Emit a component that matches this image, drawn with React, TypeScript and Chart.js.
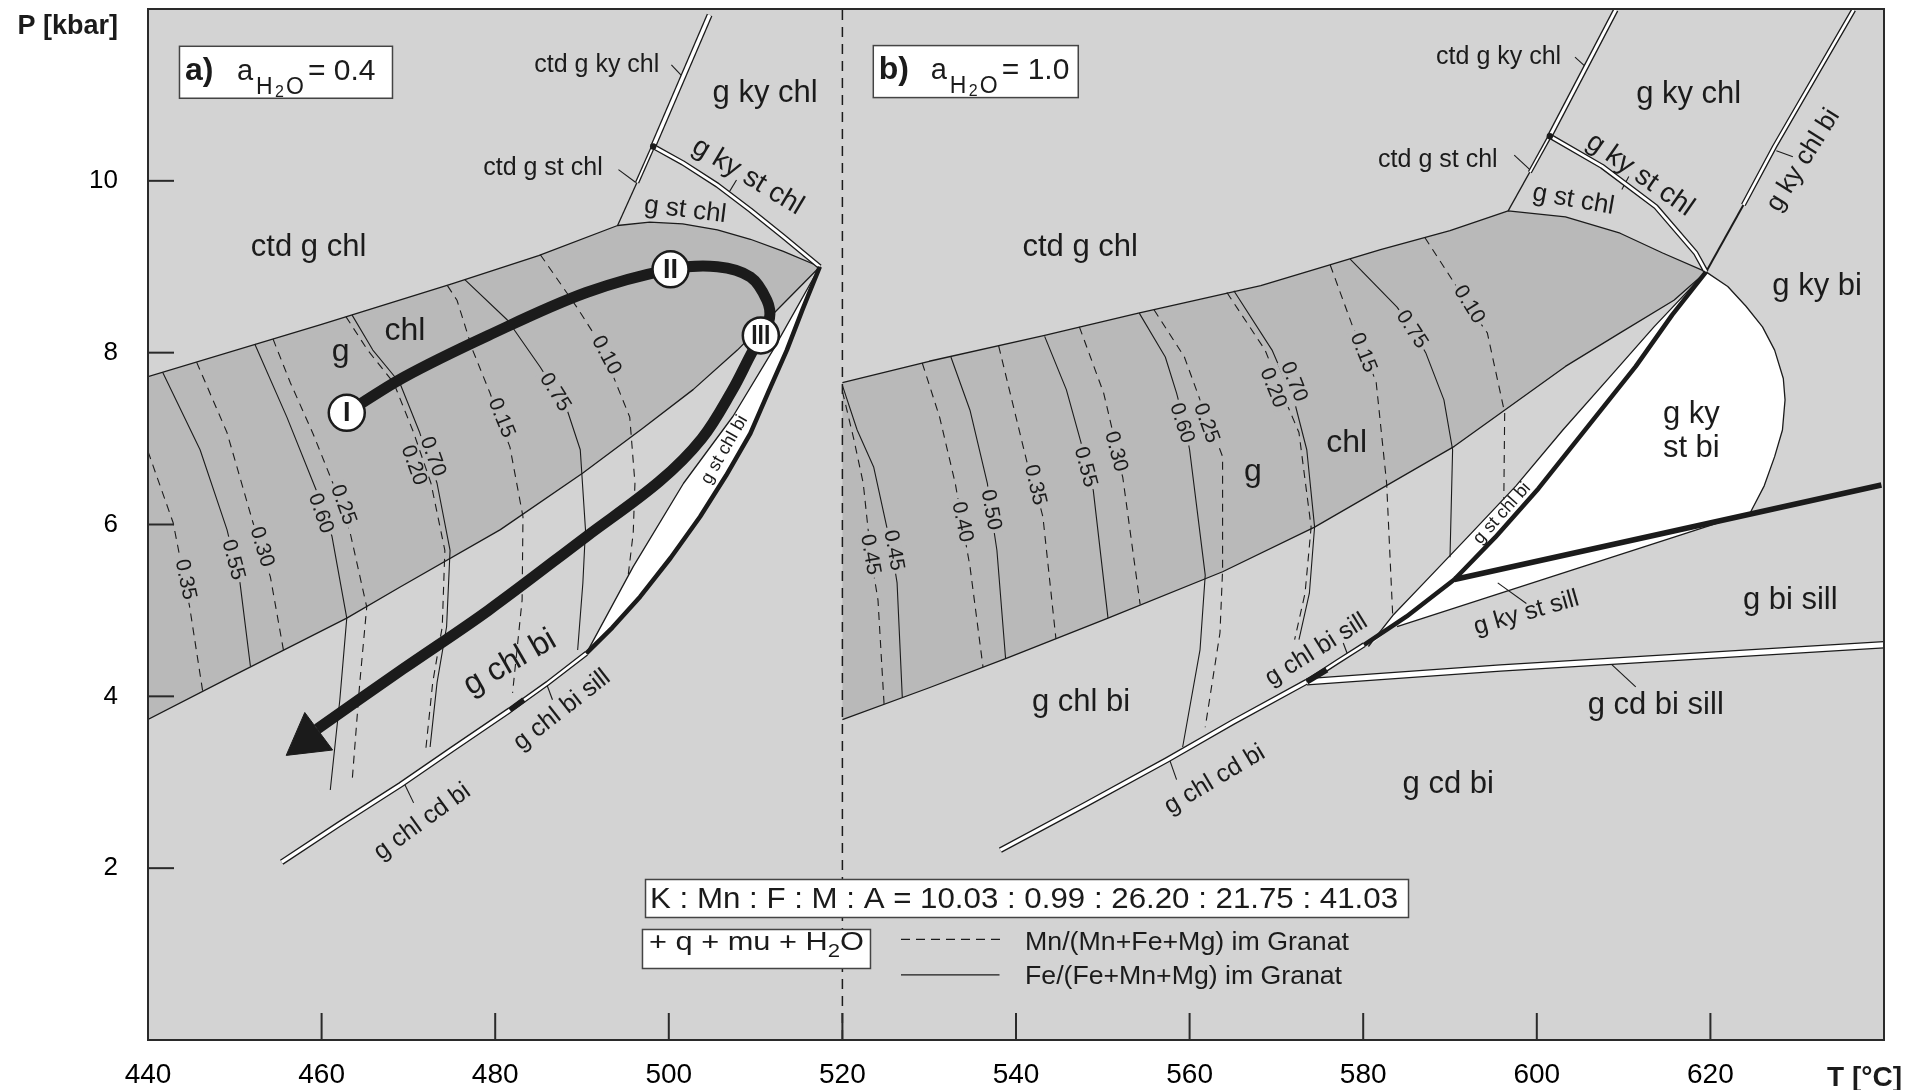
import React, { useEffect, useRef } from 'react';
import { Chart, registerables } from 'chart.js';

Chart.register(...registerables);

const FONT = "'Liberation Sans', Arial, Helvetica, sans-serif";
const INK = '#1b1b1b';
const LIGHT = '#d3d3d3';
const DARK = '#b9b9b9';

// ---------- axes ----------
const xTickValues = [440, 450, 460, 470, 480, 490, 500, 510, 520, 530, 540, 550, 560, 570, 580, 590, 600, 610, 620, 630, 640];
const xTickLabels = [440, 460, 480, 500, 520, 540, 560, 580, 600, 620];
const yTickValues = [0, 1, 2, 3, 4, 5, 6, 7, 8, 9, 10, 11, 12];
const yTickLabels = [2, 4, 6, 8, 10];

// ---------- panel a (aH2O = 0.4): [T °C, P kbar] ----------
const bandATop = [[440, 7.72], [460, 8.33], [475, 8.8], [485, 9.13], [494.1, 9.48]];
const bandAArc = [[494.1, 9.48], [497.8, 9.52], [501.6, 9.5], [505.6, 9.43], [509.4, 9.32], [513.2, 9.18], [517.4, 9.0]];
const bandABottom = [[440, 3.73], [450, 4.25], [462.9, 4.91], [469, 5.27], [480.6, 5.94], [490.1, 6.6], [497, 7.12], [502.8, 7.57], [507.9, 8.03], [512.5, 8.5], [517.4, 9.0]];
const sliverAThin = [[517.4, 9.0], [512.0, 8.03], [507.4, 7.26], [501.7, 6.48], [495.9, 5.51], [490.5, 4.5]];
const sliverAThick = [[517.4, 9.0], [515.4, 8.5], [513.6, 8.03], [511.5, 7.55], [509.4, 7.06], [506.6, 6.57], [503.6, 6.09], [500.2, 5.61], [496.7, 5.16], [493.5, 4.8], [490.5, 4.5]];
const ctdGStChlA = [[494.1, 9.48], [498.2, 10.4]];
const ctdGStChlADouble = [[496.35, 9.98], [498.2, 10.4]];
const ctdGKyChlA = [[498.2, 10.4], [504.7, 11.93]];
const gKyStChlA = [[498.2, 10.4], [501.6, 10.21], [505.6, 9.95], [509.4, 9.66], [513.2, 9.35], [517.4, 9.0]];
const gChlBiSillA = [[490.5, 4.5], [486, 4.15], [481.7, 3.84]];
const gChlBiSillABlack = [[481.7, 3.84], [483.3, 3.96]];
const gChlCdBiA = [[481.7, 3.84], [475, 3.38], [469.1, 2.97], [462, 2.51], [455.4, 2.07]];

// isopleths panel a (Mn dashed, Fe solid)
const isoA_Mn035 = [[440, 6.85], [442.9, 6.02], [444.8, 5.04], [446.3, 4.06]];
const isoA_Fe055 = [[441.7, 7.77], [446.0, 6.87], [449.1, 5.94], [450.6, 5.32], [451.8, 4.35]];
const isoA_Mn030 = [[445.6, 7.89], [449.1, 7.07], [452.1, 6.02], [454.1, 5.39], [455.6, 4.54]];
const isoA_Fe060 = [[452.3, 8.1], [456.0, 7.25], [459.5, 6.37], [461.2, 5.86], [462.9, 4.91], [462.1, 3.96], [461.0, 2.91]];
const isoA_Mn025 = [[454.4, 8.16], [456.4, 7.65], [459.0, 7.06], [461.3, 6.48], [463.3, 5.9], [465.2, 5.04], [464.4, 4.16], [463.5, 2.99]];
const isoA_Fe070 = [[463.5, 8.44], [465.9, 8.03], [469.0, 7.65], [471.3, 7.07], [473.3, 6.48], [474.8, 5.7], [474.4, 4.81], [473.3, 4.16], [472.5, 3.41]];
const isoA_Mn020 = [[462.8, 8.42], [465.3, 8.03], [468.3, 7.65], [470.6, 7.07], [472.6, 6.48], [474.2, 5.7], [473.9, 4.81], [472.8, 4.16], [472.0, 3.38]];
const isoA_Mn015 = [[474.5, 8.78], [475.6, 8.61], [477.4, 8.03], [479.4, 7.53], [481.7, 6.9], [483.2, 6.09], [483.1, 5.12], [482.0, 4.04]];
const isoA_Fe075 = [[476.5, 8.85], [481.4, 8.38], [485.2, 7.83], [488.3, 7.33], [489.8, 6.87], [490.4, 5.94], [490.1, 5.32], [489.5, 4.54]];
const isoA_Mn010 = [[485.2, 9.14], [489.4, 8.53], [491.3, 8.23], [493.5, 7.75], [495.5, 7.25], [496.1, 6.48], [495.9, 5.9], [495.3, 5.39]];

// P-T path
const pathA = [[462.9, 7.3], [469.4, 7.71], [479.2, 8.2], [490.5, 8.7], [500.2, 8.97], [505.6, 9.0], [509.4, 8.88], [511.3, 8.61], [511.6, 8.4], [510.6, 8.2], [509.3, 7.95], [507.3, 7.56], [503.8, 7.0], [498.9, 6.5], [490.5, 5.86], [479.2, 5.0], [469.4, 4.32], [459.5, 3.62]];
const pathStations = [[462.9, 7.3], [500.2, 8.97], [510.6, 8.2]];
const stationNames = ['I', 'II', 'III'];
const arrowHead = [[458.42, 3.5]];

// ---------- panel b (aH2O = 1.0) ----------
const bandBTop = [[520, 7.65], [530, 7.9], [543.3, 8.2], [554.1, 8.46], [568.2, 8.78], [582, 9.2], [590, 9.42], [596.7, 9.65]];
const bandBArc = [[596.7, 9.65], [603.3, 9.58], [609.6, 9.39], [614.5, 9.16], [619.5, 8.94]];
const bandBBottom = [[520, 3.73], [530, 4.1], [539.1, 4.45], [550.6, 4.91], [563.8, 5.45], [574.4, 5.97], [590.5, 6.91], [596, 7.31], [603.3, 7.84], [609.6, 8.23], [615.8, 8.61], [619.5, 8.94]];
const sliverBThin = [[619.5, 8.94], [613.5, 8.3], [608.7, 7.75], [603.0, 7.1], [597.6, 6.45], [592.0, 5.85], [587.0, 5.32], [583.4, 4.94], [580.6, 4.58]];
const thickBUpper = [[619.5, 8.94], [615.6, 8.44], [611.4, 7.84], [605.8, 7.13], [600.2, 6.42], [595.2, 5.85], [590.5, 5.36]];
const thickBLower = [[590.5, 5.36], [585, 4.93], [580.1, 4.6]];
const thickBRight = [[590.5, 5.36], [624.5, 6.12], [639.7, 6.46]];
const bulgeB = [[619.5, 8.94], [622.0, 8.77], [624.1, 8.54], [626.0, 8.3], [627.4, 8.03], [628.4, 7.7], [628.6, 7.45], [628.3, 7.1], [627.4, 6.79], [626.2, 6.45], [624.5, 6.12]];
const gKyStSillB = [[583.9, 4.81], [622.5, 6.07]];
const ctdGStChlB = [[596.7, 9.65], [601.5, 10.52]];
const ctdGStChlBDouble = [[599.2, 10.1], [601.5, 10.52]];
const ctdGKyChlB = [[601.5, 10.52], [609.1, 11.99]];
const gKyStChlB = [[601.5, 10.52], [607.5, 10.17], [613.7, 9.7], [618.3, 9.16], [619.5, 8.94]];
const gKyChlBiB = [[619.5, 8.94], [623.8, 9.72]];
const gKyChlBiBDouble = [[623.8, 9.72], [627.4, 10.4], [636.5, 11.99]];
const gChlBiSillB = [[580.1, 4.6], [577, 4.4], [573.5, 4.17]];
const gChlBiSillBBlack = [[573.5, 4.17], [575.8, 4.31]];
const gChlCdBiB = [[573.5, 4.17], [565, 3.7], [557.4, 3.26], [548, 2.74], [538.2, 2.21]];
const gCdBiSillB = [[573.5, 4.17], [595.8, 4.33], [640, 4.6]];
const junctionDots = [[498.2, 10.4], [601.5, 10.52]];
const dividerLine = [[520, 0], [520, 12]];

const isoB_Mn045 = [[520, 7.55], [521.3, 7.0], [522.4, 6.48], [523.3, 5.62], [524.1, 5.12], [524.8, 3.91]];
const isoB_Fe045 = [[520, 7.62], [521.7, 7.1], [523.6, 6.67], [525.7, 5.7], [526.3, 5.32], [526.9, 3.99]];
const isoB_Mn040 = [[529.2, 7.88], [531.2, 7.25], [533.0, 6.48], [533.8, 6.02], [534.7, 5.51], [536.2, 4.34]];
const isoB_Fe050 = [[532.5, 7.95], [534.7, 7.33], [536.7, 6.48], [537.1, 6.17], [537.8, 5.7], [538.8, 4.44]];
const isoB_Mn035 = [[538.0, 8.08], [540.0, 7.25], [541.4, 6.67], [542.2, 6.44], [543.1, 6.09], [544.6, 4.67]];
const isoB_Fe055 = [[543.3, 8.19], [545.8, 7.57], [547.5, 6.95], [548.0, 6.67], [548.9, 6.4], [550.6, 4.91]];
const isoB_Mn030 = [[547.3, 8.3], [550.1, 7.53], [551.1, 7.1], [551.5, 6.83], [552.3, 6.55], [554.3, 5.07]];
const isoB_Fe060 = [[554.2, 8.46], [557.2, 7.95], [558.5, 7.53], [559.4, 7.18], [560.0, 6.87], [561.8, 5.41], [561.2, 4.54], [559.2, 3.41]];
const isoB_Mn025 = [[555.9, 8.5], [559.4, 7.95], [561.2, 7.45], [562.5, 7.14], [563.8, 6.79], [563.8, 5.47], [563.5, 4.74], [561.8, 3.64]];
const isoB_Fe070 = [[565.1, 8.72], [569.5, 8.03], [572.1, 7.42], [573.5, 6.87], [574.4, 5.97], [573.8, 5.2], [572.6, 4.66]];
const isoB_Mn020 = [[564.3, 8.7], [568.7, 8.03], [571.0, 7.45], [572.6, 7.07], [574.0, 5.97], [573.3, 5.2], [572.1, 4.66]];
const isoB_Mn015 = [[576.2, 9.02], [578.8, 8.3], [580.1, 8.03], [581.5, 7.65], [582.7, 6.48], [583.4, 4.94]];
const isoB_Fe075 = [[578.5, 9.09], [583.9, 8.53], [585.5, 8.3], [587.2, 8.0], [589.3, 7.45], [590.3, 6.87], [590.0, 5.62]];
const isoB_Mn010 = [[587.1, 9.34], [590.5, 8.81], [592.2, 8.53], [594.3, 8.23], [596.3, 7.3], [596.2, 6.29]];

const mnIsopleths = [isoA_Mn035, isoA_Mn030, isoA_Mn025, isoA_Mn020, isoA_Mn015, isoA_Mn010, isoB_Mn045, isoB_Mn040, isoB_Mn035, isoB_Mn030, isoB_Mn025, isoB_Mn020, isoB_Mn015, isoB_Mn010];
const feIsopleths = [isoA_Fe055, isoA_Fe060, isoA_Fe070, isoA_Fe075, isoB_Fe045, isoB_Fe050, isoB_Fe055, isoB_Fe060, isoB_Fe070, isoB_Fe075];

// isopleth labels: [text, T, P, rotation°]
const isoLabels = [
  ['0.35', 444.3, 5.36, 78], ['0.55', 449.8, 5.59, 75], ['0.30', 453.1, 5.74, 73], ['0.60', 459.9, 6.13, 71],
  ['0.25', 462.5, 6.23, 70], ['0.20', 470.6, 6.69, 70], ['0.70', 472.8, 6.79, 70], ['0.15', 480.7, 7.24, 68],
  ['0.75', 486.9, 7.54, 58], ['0.10', 492.8, 7.97, 62],
  ['0.45', 523.2, 5.65, 80], ['0.45', 525.9, 5.7, 80], ['0.40', 533.8, 6.03, 78], ['0.50', 537.1, 6.17, 80],
  ['0.35', 542.2, 6.46, 77], ['0.55', 548.0, 6.67, 75], ['0.30', 551.5, 6.85, 75], ['0.60', 559.1, 7.18, 72],
  ['0.25', 561.9, 7.18, 70], ['0.20', 569.6, 7.59, 68], ['0.70', 572.0, 7.66, 68], ['0.15', 580.0, 8.0, 68],
  ['0.75', 585.6, 8.27, 57], ['0.10', 592.2, 8.56, 58],
];

// field labels: [text, T, P, size, rotation°]
const fieldLabels = [
  ['ctd g chl', 458.5, 9.22, 31, 0], ['g ky chl', 511.1, 11.02, 31, 0], ['g', 462.2, 8.0, 32, 0], ['chl', 469.6, 8.25, 32, 0],
  ['g chl bi', 481.7, 4.39, 32, -30], ['g st chl', 501.9, 9.66, 26, 7], ['g ky st chl', 509.1, 10.05, 28, 31],
  ['ctd g ky chl', 491.7, 11.35, 25, 0], ['ctd g st chl', 485.5, 10.15, 25, 0], ['g st chl bi', 506.4, 6.87, 18, -60],
  ['g chl bi sill', 487.7, 3.84, 25, -38], ['g chl cd bi', 471.6, 2.54, 25, -36],
  ['ctd g chl', 547.4, 9.23, 31, 0], ['ctd g ky chl', 595.6, 11.44, 25, 0], ['ctd g st chl', 588.6, 10.24, 25, 0],
  ['g ky chl', 617.5, 11.0, 31, 0], ['g st chl', 604.2, 9.78, 26, 10], ['g ky st chl', 611.9, 10.07, 28, 35],
  ['g ky chl bi', 630.7, 10.24, 26, -58], ['g ky bi', 632.3, 8.77, 31, 0], ['g ky', 617.8, 7.28, 31, 0], ['st bi', 617.8, 6.88, 31, 0],
  ['g', 567.3, 6.61, 32, 0], ['chl', 578.1, 6.95, 32, 0], ['g chl bi', 547.5, 3.93, 31, 0], ['g st chl bi', 596.0, 6.13, 18, -48],
  ['g ky st sill', 598.8, 4.97, 25, -16], ['g bi sill', 629.2, 5.12, 31, 0], ['g cd bi sill', 613.7, 3.89, 31, 0],
  ['g cd bi', 589.8, 2.97, 31, 0], ['g chl bi sill', 574.6, 4.54, 25, -32], ['g chl cd bi', 562.9, 3.03, 25, -31],
];

const leaderLines = [
  [[500.3, 11.35], [501.6, 11.21]], [[494.2, 10.13], [496.2, 9.98]], [[506.9, 9.86], [507.8, 10.01]],
  [[485.9, 4.15], [486.6, 3.96]], [[469.5, 2.99], [470.6, 2.76]],
  [[604.4, 11.44], [605.7, 11.32]], [[597.4, 10.3], [599.2, 10.13]], [[609.8, 9.9], [610.6, 10.05]],
  [[627.6, 10.35], [629.5, 10.28]], [[595.5, 5.32], [598.8, 5.08]], [[608.3, 4.4], [611.4, 4.11]],
  [[577.7, 4.62], [578.3, 4.46]], [[557.7, 3.26], [558.5, 3.03]],
];

const compositionText = 'K : Mn : F : M : A = 10.03 : 0.99 : 26.20 : 21.75 : 41.03';
const legendMn = 'Mn/(Mn+Fe+Mg) im Granat';
const legendFe = 'Fe/(Fe+Mn+Mg) im Granat';

// ---------- helpers ----------
const toXY = (a: number[][]) => a.map(([x, y]) => ({ x, y }));
const rev = (a: number[][]) => a.slice().reverse();
const join = (...parts: number[][][]) => parts.reduce((acc, p) => acc.concat(p), [] as number[][]);

function buildDatasets() {
  const out: any[] = [];
  const base = {
    pointRadius: 0, pointHoverRadius: 0, borderColor: INK, borderWidth: 1.3, fill: false, clip: 0,
    tension: 0, borderCapStyle: 'butt', borderJoinStyle: 'round', showLine: true,
  };
  const add = (o: any) => out.push({ ...base, ...o });
  const polygon = (pts: number[][], color: string, bw = 0) =>
    add({ data: toXY(pts), fill: 'shape', backgroundColor: color, borderWidth: bw || 1, borderColor: bw ? INK : 'rgba(0,0,0,0)' });
  const line = (pts: number[][], w = 1.3, extra: any = {}) => add({ data: toXY(pts), borderWidth: w, ...extra });
  const dbl = (pts: number[][], w: number) => { line(pts, w); line(pts, w - 2.6, { borderColor: '#ffffff' }); };

  // fills
  polygon(join(bandATop, bandAArc.slice(1), rev(bandABottom).slice(1)), DARK, 1.3);
  polygon(join(bandBTop, bandBArc.slice(1), rev(bandBBottom).slice(1)), DARK, 1.3);
  polygon(join(sliverAThin, rev(sliverAThick).slice(1)), '#ffffff');
  polygon(join(sliverBThin, rev(join(thickBUpper, thickBLower.slice(1))).slice(1)), '#ffffff');
  polygon(join(thickBUpper, rev(bulgeB)), '#ffffff');
  polygon([thickBLower[0], gKyStSillB[1], gKyStSillB[0], thickBLower[1]], '#ffffff');

  // isopleths
  mnIsopleths.forEach((p) => line(p, 1.1, { borderDash: [8, 6] }));
  feIsopleths.forEach((p) => line(p, 1.1));

  // thin boundaries
  [sliverAThin, sliverBThin, bulgeB, gKyStSillB, ctdGStChlA, ctdGStChlB].forEach((p) => line(p, 1.3));
  line(gKyChlBiB, 2);
  leaderLines.forEach((p) => line(p, 1.1));

  // double lines
  dbl(ctdGStChlADouble, 4.4);
  dbl(ctdGKyChlA, 6);
  dbl(gKyStChlA, 5.4);
  dbl(gChlBiSillA, 5.2);
  dbl(gChlCdBiA, 6);
  dbl(ctdGStChlBDouble, 4.4);
  dbl(ctdGKyChlB, 5.6);
  dbl(gKyStChlB, 5.4);
  dbl(gKyChlBiBDouble, 5.2);
  dbl(gChlBiSillB, 5.2);
  dbl(gChlCdBiB, 6);
  dbl(gCdBiSillB, 7.5);

  // thick boundaries
  line(sliverAThick, 4.5);
  line(join(thickBUpper, thickBLower.slice(1)), 4.5);
  line(thickBRight, 5.5);
  line(gChlBiSillABlack, 5.5);
  line(gChlBiSillBBlack, 6);
  add({ data: toXY(junctionDots), showLine: false, pointRadius: 3.2, pointBackgroundColor: INK, pointBorderColor: INK, pointBorderWidth: 0 });

  // divider
  line(dividerLine, 1.5, { borderDash: [10, 7] });

  // P-T path
  add({ data: toXY(pathA), borderWidth: 11, tension: 0.35, borderColor: INK });
  add({ data: toXY(arrowHead), showLine: false, pointStyle: 'triangle', pointRadius: 27, pointRotation: 233.4, pointBackgroundColor: INK, pointBorderColor: INK, pointBorderWidth: 1 });
  add({ data: toXY(pathStations), showLine: false, pointRadius: 18, pointBackgroundColor: '#ffffff', pointBorderColor: INK, pointBorderWidth: 2.5 });

  out.forEach((d, i) => { d.order = out.length - i; });
  return out;
}

function drawText(ctx: any, s: string, x: number, y: number, size: number, rot = 0, weight = '') {
  ctx.save();
  ctx.translate(x, y);
  if (rot) ctx.rotate((rot * Math.PI) / 180);
  ctx.font = `${weight ? weight + ' ' : ''}${size}px ${FONT}`;
  ctx.textAlign = 'center';
  ctx.textBaseline = 'middle';
  ctx.fillStyle = INK;
  ctx.fillText(s, 0, 0);
  ctx.restore();
}

function drawFit(ctx: any, s: string, x: number, baseline: number, font: string, targetW: number) {
  ctx.save();
  ctx.font = font;
  const w = ctx.measureText(s).width;
  ctx.translate(x, baseline);
  ctx.scale(targetW / w, 1);
  ctx.textAlign = 'left';
  ctx.textBaseline = 'alphabetic';
  ctx.fillStyle = INK;
  ctx.fillText(s, 0, 0);
  ctx.restore();
}

function drawBox(ctx: any, x: number, y: number, w: number, h: number) {
  ctx.save();
  ctx.fillStyle = '#ffffff';
  ctx.fillRect(x, y, w, h);
  ctx.strokeStyle = '#444';
  ctx.lineWidth = 1.5;
  ctx.strokeRect(x + 0.5, y + 0.5, w, h);
  ctx.restore();
}

function drawActivityBox(ctx: any, x: number, y: number, w: number, letter: string, value: string) {
  drawBox(ctx, x, y, w, 52);
  const segs: [number, number, string, string][] = [
    [6, 34, letter + ')', `bold 32px ${FONT}`],
    [58, 34, 'a', `29px ${FONT}`],
    [77, 48, 'H', `23px ${FONT}`],
    [96, 51, '2', `16px ${FONT}`],
    [107, 48, 'O', `23px ${FONT}`],
    [129, 34, '= ' + value, `30px ${FONT}`],
  ];
  ctx.save();
  ctx.fillStyle = INK;
  ctx.textAlign = 'left';
  ctx.textBaseline = 'alphabetic';
  segs.forEach(([dx, dy, t, f]) => { ctx.font = f; ctx.fillText(t, x + dx, y + dy); });
  ctx.restore();
}

const diagramPlugin = {
  id: 'diagram',
  beforeDraw(chart: any) {
    const { ctx, chartArea: a } = chart;
    ctx.save();
    ctx.fillStyle = LIGHT;
    ctx.fillRect(a.left, a.top, a.right - a.left, a.bottom - a.top);
    ctx.restore();
  },
  afterDraw(chart: any) {
    const { ctx, chartArea: a, scales } = chart;
    const X = (v: number) => scales.x.getPixelForValue(v);
    const Y = (v: number) => scales.y.getPixelForValue(v);

    ctx.save();
    ctx.beginPath();
    ctx.rect(a.left, a.top, a.right - a.left, a.bottom - a.top);
    ctx.clip();

    // isopleth label masks, then text
    ctx.font = `21px ${FONT}`;
    isoLabels.forEach(([s, T, P, r]: any) => {
      ctx.save();
      ctx.translate(X(T), Y(P));
      ctx.rotate((r * Math.PI) / 180);
      const w = ctx.measureText(s).width;
      ctx.fillStyle = DARK;
      ctx.fillRect(-w / 2 - 3, -8.5, w + 6, 17);
      ctx.restore();
    });
    isoLabels.forEach(([s, T, P, r]: any) => drawText(ctx, s, X(T), Y(P), 21, r));

    // field labels
    fieldLabels.forEach(([s, T, P, size, r]: any) => drawText(ctx, s, X(T), Y(P), size, r));

    // station numerals
    pathStations.forEach(([T, P], i) => {
      const name = stationNames[i];
      ctx.save();
      ctx.translate(X(T), Y(P) + 1);
      if (name.length === 3) ctx.scale(0.85, 1);
      ctx.font = `bold 27px ${FONT}`;
      ctx.textAlign = 'center';
      ctx.textBaseline = 'middle';
      ctx.fillStyle = INK;
      ctx.fillText(name, 0, 0);
      ctx.restore();
    });

    // activity boxes
    drawActivityBox(ctx, X(443.57), Y(11.572), 213, 'a', '0.4');
    drawActivityBox(ctx, X(523.5), Y(11.58), 205, 'b', '1.0');

    // composition box
    const kx = X(497.26), ky = Y(1.874);
    drawBox(ctx, kx, ky, 763, 38);
    drawFit(ctx, compositionText, kx + 5, ky + 29, `29px ${FONT}`, 748);

    // + q + mu + H2O box
    const qx = X(496.91), qy = Y(1.292);
    drawBox(ctx, qx, qy, 228, 39);
    ctx.save();
    ctx.font = `25px ${FONT}`;
    const t1 = '+ q + mu + H';
    const w1 = ctx.measureText(t1).width;
    ctx.font = `18px ${FONT}`;
    const w2 = ctx.measureText('2').width;
    ctx.font = `25px ${FONT}`;
    const w3 = ctx.measureText('O').width;
    const k = 215 / (w1 + w2 + w3);
    ctx.translate(qx + 7, qy + 21);
    ctx.scale(k, 1);
    ctx.fillStyle = INK;
    ctx.textBaseline = 'alphabetic';
    ctx.textAlign = 'left';
    ctx.fillText(t1, 0, 0);
    ctx.font = `18px ${FONT}`;
    ctx.fillText('2', w1, 7);
    ctx.font = `25px ${FONT}`;
    ctx.fillText('O', w1 + w2, 0);
    ctx.restore();

    // legend
    ctx.save();
    ctx.strokeStyle = INK;
    ctx.lineWidth = 1.3;
    ctx.setLineDash([9, 6]);
    ctx.beginPath();
    ctx.moveTo(X(526.75), Y(1.172));
    ctx.lineTo(X(538.4), Y(1.172));
    ctx.stroke();
    ctx.setLineDash([]);
    ctx.beginPath();
    ctx.moveTo(X(526.75), Y(0.757));
    ctx.lineTo(X(538.1), Y(0.757));
    ctx.stroke();
    ctx.restore();
    drawFit(ctx, legendMn, X(541.04), Y(1.048), `25px ${FONT}`, 324);
    drawFit(ctx, legendFe, X(541.04), Y(0.652), `25px ${FONT}`, 317);
    ctx.restore();

    // frame
    ctx.save();
    ctx.strokeStyle = '#2a2a2a';
    ctx.lineWidth = 2;
    ctx.strokeRect(a.left, a.top, a.right - a.left, a.bottom - a.top);
    // inward ticks
    scales.y.ticks.forEach((t: any) => {
      if (t.value <= 0 || t.value >= 12) return;
      const y = Y(t.value);
      ctx.beginPath(); ctx.moveTo(a.left, y); ctx.lineTo(a.left + 26, y); ctx.stroke();
    });
    scales.x.ticks.forEach((t: any) => {
      if (t.value <= 440 || t.value >= 640) return;
      const x = X(t.value);
      ctx.beginPath(); ctx.moveTo(x, a.bottom); ctx.lineTo(x, a.bottom - 27); ctx.stroke();
    });
    // axis titles
    ctx.fillStyle = INK;
    ctx.font = `bold 27px ${FONT}`;
    ctx.textAlign = 'right';
    ctx.textBaseline = 'alphabetic';
    ctx.fillText('P [kbar]', a.left - 30, a.top + 25);
    ctx.textAlign = 'left';
    ctx.font = `bold 28px ${FONT}`;
    ctx.fillText('T [°C]', a.right - 57, a.bottom + 46);
    ctx.restore();
  },
};

export default function App() {
  const ref = useRef<HTMLCanvasElement>(null);
  useEffect(() => {
    const canvas = ref.current;
    if (!canvas) return;
    Chart.defaults.font.family = FONT;
    Chart.defaults.color = '#000';
    const chart = new Chart(canvas, {
      type: 'line',
      data: { datasets: buildDatasets() },
      options: {
        animation: false,
        responsive: false,
        devicePixelRatio: 1,
        events: [],
        layout: { autoPadding: false, padding: { top: 9, right: 30, bottom: 0, left: 0 } },
        plugins: { legend: { display: false }, tooltip: { enabled: false } },
        scales: {
          x: {
            type: 'linear', min: 440, max: 640,
            afterBuildTicks: (s: any) => { s.ticks = xTickValues.map((v) => ({ value: v })); },
            afterFit: (s: any) => { s.height = 50; s.paddingTop = 0; s.paddingBottom = 0; s.paddingLeft = 0; s.paddingRight = 0; },
            ticks: {
              autoSkip: false, maxRotation: 0, minRotation: 0, padding: 0, color: '#000',
              font: { size: 28, family: FONT },
              callback: (v: any) => (xTickLabels.includes(v) ? String(v) : null),
            },
            grid: { display: false, drawTicks: true, tickLength: 18 },
            border: { display: false },
          },
          y: {
            type: 'linear', min: 0, max: 12,
            afterBuildTicks: (s: any) => { s.ticks = yTickValues.map((v) => ({ value: v })); },
            afterFit: (s: any) => { s.width = 148; s.paddingTop = 0; s.paddingBottom = 0; s.paddingLeft = 0; s.paddingRight = 0; },
            ticks: {
              autoSkip: false, padding: 0, color: '#000',
              font: { size: 26, family: FONT },
              callback: (v: any) => (yTickLabels.includes(v) ? String(v) : null),
            },
            grid: { display: false, drawTicks: true, tickLength: 30 },
            border: { display: false },
          },
        },
      } as any,
      plugins: [diagramPlugin as any],
    } as any);
    return () => chart.destroy();
  }, []);
  return (
    <div style={{ position: 'fixed', left: 0, top: 0, width: 1914, height: 1090, background: '#fff' }}>
      <canvas ref={ref} width={1914} height={1090} style={{ display: 'block', width: 1914, height: 1090 }} />
    </div>
  );
}
